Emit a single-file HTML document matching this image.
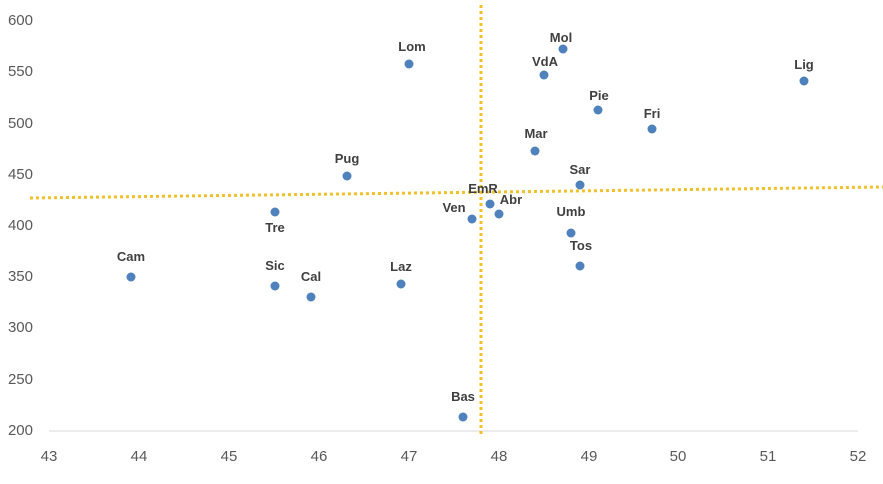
<!DOCTYPE html>
<html><head><meta charset="utf-8"><style>body{margin:0;background:#fff}</style></head><body>
<svg width="883" height="479" xmlns="http://www.w3.org/2000/svg" font-family="Liberation Sans, sans-serif">
<line x1="49" y1="431" x2="858" y2="431" stroke="#d9d9d9" stroke-width="1"/>
<g fill="#595959" font-size="15" text-anchor="end">
<text x="33" y="25">600</text><text x="33" y="76">550</text><text x="33" y="128">500</text><text x="33" y="179">450</text><text x="33" y="230">400</text><text x="33" y="281">350</text><text x="33" y="332">300</text><text x="33" y="384">250</text><text x="33" y="435">200</text>
</g>
<g fill="#595959" font-size="15" text-anchor="middle">
<text x="49" y="461">43</text><text x="139" y="461">44</text><text x="229" y="461">45</text><text x="319" y="461">46</text><text x="409" y="461">47</text><text x="499" y="461">48</text><text x="589" y="461">49</text><text x="678" y="461">50</text><text x="768" y="461">51</text><text x="858" y="461">52</text>
</g>
<line x1="481" y1="5" x2="481" y2="434" stroke="#f2c02a" stroke-width="3" stroke-dasharray="3,3"/>
<line x1="30" y1="198" x2="883" y2="187" stroke="#f2c02a" stroke-width="3" stroke-dasharray="3,3"/>
<g fill="#4f81bd">
<circle cx="563" cy="49" r="4.5"/><circle cx="544" cy="75" r="4.5"/><circle cx="409" cy="64" r="4.5"/><circle cx="804" cy="81" r="4.5"/><circle cx="598" cy="110" r="4.5"/><circle cx="652" cy="129" r="4.5"/><circle cx="535" cy="151" r="4.5"/><circle cx="347" cy="176" r="4.5"/><circle cx="580" cy="185" r="4.5"/><circle cx="490" cy="204" r="4.5"/><circle cx="499" cy="214" r="4.5"/><circle cx="275" cy="212" r="4.5"/><circle cx="472" cy="219" r="4.5"/><circle cx="571" cy="233" r="4.5"/><circle cx="580" cy="266" r="4.5"/><circle cx="131" cy="277" r="4.5"/><circle cx="275" cy="286" r="4.5"/><circle cx="311" cy="297" r="4.5"/><circle cx="401" cy="284" r="4.5"/><circle cx="463" cy="417" r="4.5"/>
</g>
<g fill="#404040" font-size="13" font-weight="bold" text-anchor="middle">
<text x="561" y="42">Mol</text><text x="545" y="66">VdA</text><text x="412" y="51">Lom</text><text x="804" y="69">Lig</text><text x="599" y="100">Pie</text><text x="652" y="118">Fri</text><text x="536" y="138">Mar</text><text x="347" y="163">Pug</text><text x="580" y="174">Sar</text><text x="483" y="193">EmR</text><text x="511" y="204">Abr</text><text x="275" y="232">Tre</text><text x="454" y="212">Ven</text><text x="571" y="216">Umb</text><text x="581" y="250">Tos</text><text x="131" y="261">Cam</text><text x="275" y="270">Sic</text><text x="311" y="281">Cal</text><text x="401" y="271">Laz</text><text x="463" y="401">Bas</text>
</g>
</svg>
</body></html>
